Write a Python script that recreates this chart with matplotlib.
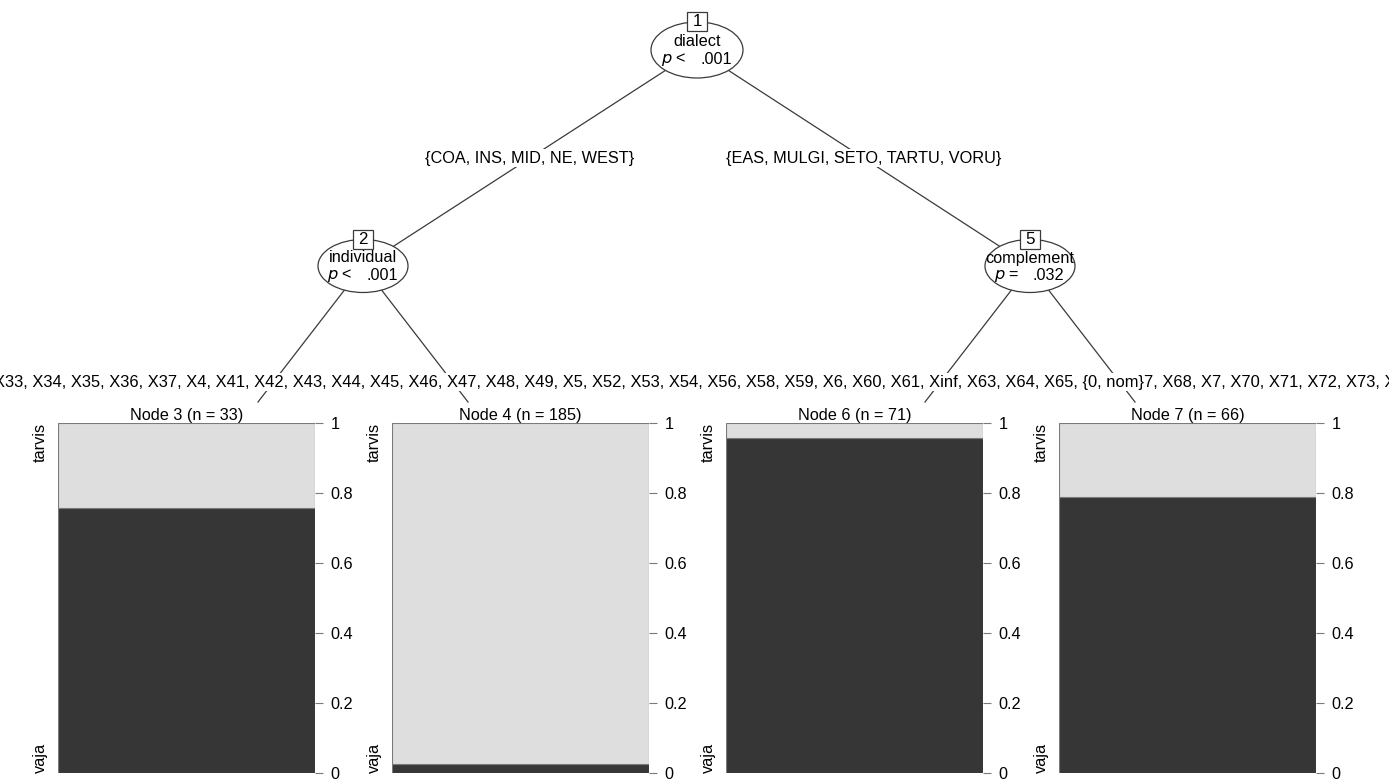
import matplotlib.pyplot as plt
from matplotlib.patches import Ellipse, Rectangle

plt.rcParams['font.family'] = ['Liberation Sans', 'DejaVu Sans']

# inner nodes of the conditional inference tree
inner_ids = [1, 2, 5]
inner_vars = ["dialect", "individual", "complement"]
inner_ops = ["<", "<", "="]
inner_pvals = [".001", ".001", ".032"]

# split labels on the edges below node 1
split_labels = ["{COA, INS, MID, NE, WEST}", "{EAS, MULGI, SETO, TARTU, VORU}"]
# split labels below nodes 2 and 5 (they overlap and run off both sides)
lower_split_text = ("X33, X34, X35, X36, X37, X4, X41, X42, X43, X44, X45, X46, X47, X48, "
                    "X49, X5, X52, X53, X54, X56, X58, X59, X6, X60, X61, Xinf, X63, X64, "
                    "X65, {0, nom}7, X68, X7, X70, X71, X72, X73, X74, X75")

# terminal nodes
term_ids = [3, 4, 6, 7]
term_n = [33, 185, 71, 66]
vaja_share = [0.758, 0.027, 0.958, 0.788]
levels = ["vaja", "tarvis"]
tick_vals = [0, 0.2, 0.4, 0.6, 0.8, 1]
tick_labels = ["0", "0.2", "0.4", "0.6", "0.8", "1"]

W, H = 1389, 782
dark = "#363636"
light = "#dedede"
frame = "#7a7a7a"
ink = "#3a3a3a"
fs = 11.7

fig = plt.figure(figsize=(W / 100, H / 100), dpi=100)
tree = fig.add_axes([0, 0, 1, 1])
tree.set_xlim(0, W)
tree.set_ylim(H, 0)
tree.axis("off")

# layout of the tree (pixel units)
pos = {1: (697, 50), 2: (363, 266), 5: (1030, 266)}
ell_size = {1: (92, 56), 2: (90, 53), 5: (90, 53)}
ends = {3: (258, 402), 4: (468, 402), 6: (925, 402), 7: (1135, 402)}
edges = [(1, 2), (1, 5), (2, 3), (2, 4), (5, 6), (5, 7)]

for a, b in edges:
    x0, y0 = pos[a]
    x1, y1 = pos.get(b, ends.get(b))
    tree.plot([x0, x1], [y0, y1], color=ink, lw=0.9, zorder=1)

# edge labels under the root
for (a, b), lab in zip([(1, 2), (1, 5)], split_labels):
    mx = (pos[a][0] + pos[b][0]) / 2
    my = (pos[a][1] + pos[b][1]) / 2
    tree.text(mx, my, lab, ha="center", va="center", fontsize=fs, color="black",
              bbox=dict(boxstyle="square,pad=0.1", fc="white", ec="none"), zorder=3)

tree.text(-6, 382, lower_split_text, ha="left", va="center", fontsize=11.9, color="black",
          bbox=dict(boxstyle="square,pad=0.1", fc="white", ec="none"), zorder=3)

# inner node ellipses with id boxes
for nid, var, op, pv in zip(inner_ids, inner_vars, inner_ops, inner_pvals):
    cx, cy = pos[nid]
    w, h = ell_size[nid]
    tree.add_patch(Ellipse((cx, cy), w, h, fc="white", ec=ink, lw=0.9, zorder=4))
    tree.text(cx, cy - 8, var, ha="center", va="center", fontsize=fs, zorder=5)
    tree.text(cx - 10, cy + 10, "$p$ " + op, ha="right", va="center", fontsize=fs, zorder=5)
    tree.text(cx + 3, cy + 10, pv, ha="left", va="center", fontsize=fs, zorder=5)
    top = cy - h / 2
    tree.add_patch(Rectangle((cx - 10, top - 10), 20, 19, fc="white", ec=ink, lw=0.9, zorder=5))
    tree.text(cx, top, str(nid), ha="center", va="center", fontsize=fs + 0.5, zorder=6)

# terminal node bar panels
panel_left = [58, 392, 726, 1059]
panel_w, panel_top, panel_bot = 257, 423, 773
for left, nid, n, share in zip(panel_left, term_ids, term_n, vaja_share):
    ax = fig.add_axes([left / W, 1 - panel_bot / H, panel_w / W, (panel_bot - panel_top) / H])
    ax.bar(0, share, width=1, color=dark, edgecolor=frame, lw=0.8)
    ax.bar(0, 1 - share, bottom=share, width=1, color=light, edgecolor=frame, lw=0.8)
    ax.set_xlim(-0.5, 0.5)
    ax.set_ylim(0, 1)
    ax.set_xticks([])
    ax.yaxis.tick_right()
    ax.set_yticks(tick_vals)
    ax.set_yticklabels(tick_labels)
    ax.tick_params(axis="y", length=6, width=0.8, color=frame, pad=5,
                   labelsize=fs, labelcolor="black")
    for sp in ax.spines.values():
        sp.set_visible(False)
    ax.set_title(f"Node {nid} (n = {n})", fontsize=fs, pad=2)
    ax.text(-0.04, 1, levels[1], transform=ax.transAxes, rotation=90,
            ha="right", va="top", fontsize=fs)
    ax.text(-0.04, 0, levels[0], transform=ax.transAxes, rotation=90,
            ha="right", va="bottom", fontsize=fs)

fig.savefig("out.png", dpi=100, facecolor="white")
